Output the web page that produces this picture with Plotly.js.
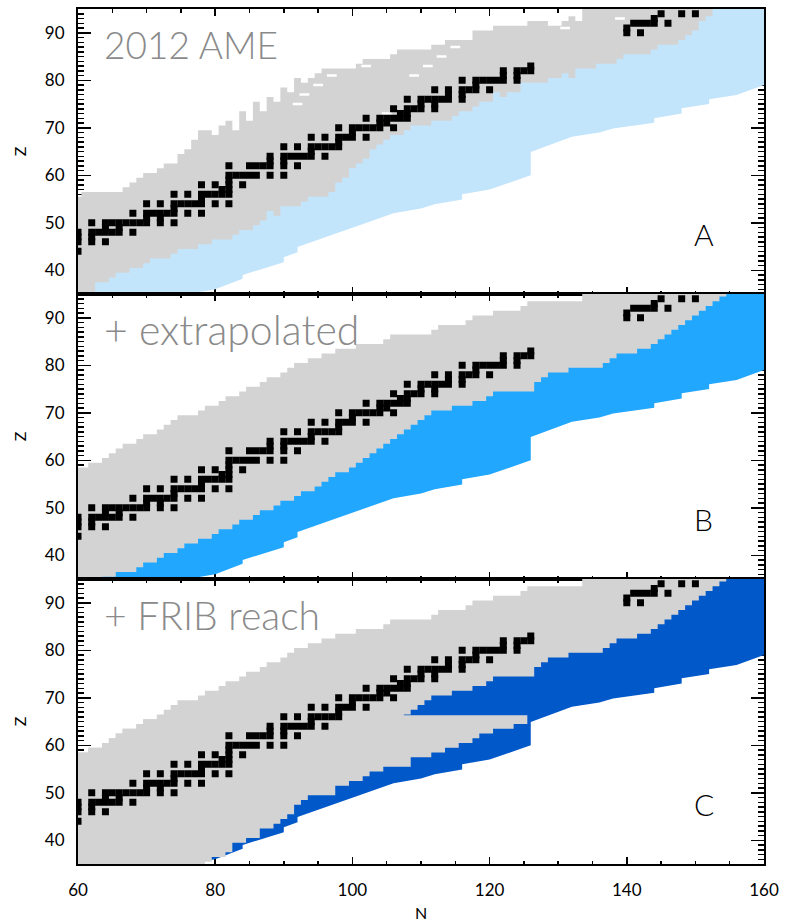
<!DOCTYPE html>
<html><head><meta charset="utf-8">
<script src="https://cdn.plot.ly/plotly-3.0.1.min.js"></script>
<style>html,body{margin:0;padding:0;background:#fff}</style>
</head><body><div id="chart" style="width:787px;height:922px"></div>
<script>
// Isotone columns N = 60..160
const N_cols = [60,61,62,63,64,65,66,67,68,69,70,71,72,73,74,75,76,77,78,79,80,81,82,83,84,85,86,87,88,89,90,91,92,93,94,95,96,97,98,99,100,101,102,103,104,105,106,107,108,109,110,111,112,113,114,115,116,117,118,119,120,121,122,123,124,125,126,127,128,129,130,131,132,133,134,135,136,137,138,139,140,141,142,143,144,145,146,147,148,149,150,151,152,153,154,155,156,157,158,159,160];

// Panel A: 2012 AME known masses (highest / lowest Z per isotone)
const topA = [55,56,56,56,56,56,56,57,58,59, 60,60,61,62,62,64,65,67,69,69, 68,70,71,69,73,71,75,73,76,75, 78,77,80,79,80,81,82,82,82,82, 82,83,84,84,84,84,85,86,86,86, 86,86,87,87,88,88,88,88,90,90, 90,91,91,91,91,91,92,92,92,91, 91,92,93,92,96,96,96,96,96,96, 96,96,96,96,96,96,96,96,96,96, 96,96,96,null,null,null,null,null,null,null,null];
const botA = [35,35,36,38,38,39,40,40,41,41, 42,43,43,43,44,45,45,45,46,46, 47,47,47,48,49,49,50,51,53,52, 54,54,54,55,56,56,56,57,59,60, 62,63,64,66,67,68,69,69,70,71, 71,71,72,72,72,73,74,74,75,76, 76,78,77,78,78,80,80,80,80,81, 81,82,81,83,83,83,84,84,84,85, 86,86,86,86,87,88,88,88,89,90, 91,93,94,null,null,null,null,null,null,null,null];

// Panel B / C: known + extrapolated
const topB = [58,58,59,59,60,61,62,63,63,64, 65,65,66,67,68,69,69,69,70,71, 71,72,73,73,74,75,75,76,77,77, 78,79,80,80,81,81,82,82,83,83, 83,84,84,84,84,85,86,86,86,86, 86,86,87,88,88,88,88,89,90,90, 90,91,91,91,91,92,93,93,93,93, 93,93,93,93,96,96,96,96,96,96, 96,96,96,96,96,96,96,96,96,96, 96,96,96,96,96,null,null,null,null,null,null];
const botB = [34,34,34,35,36,36,37,37,37,38, 39,39,40,41,41,42,43,43,44,44, 45,46,46,47,48,48,49,50,50,51, 52,52,53,54,54,55,56,57,58,58, 59,60,61,62,63,64,65,66,67,68, 69,70,71,71,71,72,72,72,73,73, 74,75,75,75,75,75,75,77,78,79, 79,79,80,80,80,80,80,81,82,83, 83,83,84,84,85,86,87,88,89,90, 91,92,93,94,95,null,null,null,null,null,null];

// Panel C: FRIB reach (lowest Z reached per isotone; reach ends at Z ~ 66)
const fribBot = [34,34,34,34,34,34,34,34,34,34, 34,34,34,34,34,34,34,34,34,36, 37,37,38,40,40,41,41,43,43,44, 45,46,48,49,50,50,50,50,52,52, 53,53,54,55,55,56,56,56,56,58, 58,58,59,59,60,60,61,61,62,63, 63,64,64,64,65,65,null,null,null,null, null,null,null,null,null,null,null,null,null,null, null,null,null,null,null,null,null,null,null,null, null,null,null,null,null,null,null,null,null,null,null];
const fribTopZ = 66.3;

// Neutron drip line (lower edge of coloured band)
const dripN = [60,68,76,80,84,84,90,90,92,92,106,110,112,116,116,120,126,126,132,136,138,144,144,148,148,152,152,156,160];
const dripZ = [30,32.5,35,36,38.2,39,41.7,42.75,43.8,44.9,52,53,53.9,54.9,56,57,60,64.9,68.1,69,69.85,71.05,72,73,74.1,75,76,76.9,79];

// Stable / long-lived nuclei
const stableN = [60, 60,62,64, 60,62, 60,62,63,64,65,66,68, 64,66, 62,64,65,66,67,68,69,70,72,74, 70,72, 68,70,71,72,73,74,76,78, 74, 70,72,74,75,76,77,78,80,82, 78, 74,76,78,79,80,81,82, 81,82, 78,80,82,84, 82, 82,83,84,85,86,88,90, 82,85,86,87,88,90,92, 88,90, 88,90,91,92,93,94,96, 94, 90,92,94,95,96,97,98, 98, 94,96,98,99,100,102, 100, 98,100,101,102,103,104,106, 104,105, 102,104,105,106,107,108, 107,108, 106,108,109,110,112, 110,112, 108,110,111,112,113,114,116, 114,116, 112,114,116,117,118,120, 118, 116,118,119,120,121,122,124, 122,124, 122,124,125,126, 126, 140,142, 140, 141,142,143,144,146, 144, 145,148,150];
const stableZ = [44, 46,46,46, 47,47, 48,48,48,48,48,48,48, 49,49, 50,50,50,50,50,50,50,50,50,50, 51,51, 52,52,52,52,52,52,52,52, 53, 54,54,54,54,54,54,54,54,54, 55, 56,56,56,56,56,56,56, 57,57, 58,58,58,58, 59, 60,60,60,60,60,60,60, 62,62,62,62,62,62,62, 63,63, 64,64,64,64,64,64,64, 65, 66,66,66,66,66,66,66, 67, 68,68,68,68,68,68, 69, 70,70,70,70,70,70,70, 71,71, 72,72,72,72,72,72, 73,73, 74,74,74,74,74, 75,75, 76,76,76,76,76,76,76, 77,77, 78,78,78,78,78,78, 79, 80,80,80,80,80,80,80, 81,81, 82,82,82,82, 83, 90,90, 91, 92,92,92,92,92, 93, 94,94,94];

// Gaps in the 2012 AME coverage
const holesN = [92,93,95,97,102,105,109,111,113,115,131,139];
const holesZ = [75,77,79,81,83,73,81,83,85,87,91,93];

const panelLabels = ['2012 AME', '+ extrapolated', '+ FRIB reach'];
const panelLetters = ['A', 'B', 'C'];

const GRAY = '#d3d3d3';
const BLUES = ['#c3e5fc', '#22a7fe', '#0058c9'];

function columnPolygon(tops, bots, capZ) {
  const xs = [], ys = [];
  const idx = [];
  for (let i = 0; i < N_cols.length; i++) if (bots[i] !== null && tops[i] !== null) idx.push(i);
  idx.forEach(i => {
    let t = tops[i] + 0.5;
    if (capZ !== undefined) t = Math.min(t, capZ);
    xs.push(N_cols[i] - 0.5, N_cols[i] + 0.5); ys.push(t, t);
  });
  idx.slice().reverse().forEach(i => { xs.push(N_cols[i] + 0.5, N_cols[i] - 0.5); ys.push(bots[i] - 0.5, bots[i] - 0.5); });
  return {x: xs, y: ys};
}
function bluePolygon(tops, bots) {
  const xs = dripN.slice(), ys = dripZ.slice();
  const last = N_cols.length - 1;
  xs.push(N_cols[last] + 0.6, N_cols[last] + 0.6); ys.push(dripZ[dripZ.length - 1], 96);
  for (let i = last; i >= 0; i--) {
    if (tops[i] === null || bots[i] === null) continue;
    xs.push(N_cols[i]); ys.push((tops[i] + bots[i]) / 2);
  }
  return {x: xs, y: ys};
}

const traces = [];
const panels = [
  {tops: topA, bots: botA},
  {tops: topB, bots: botB},
  {tops: topB, bots: botB, frib: true}
];
panels.forEach((p, k) => {
  const xa = k === 0 ? 'x' : 'x' + (k + 1);
  const ya = k === 0 ? 'y' : 'y' + (k + 1);
  const bp = bluePolygon(p.tops, p.bots);
  traces.push({type: 'scatter', mode: 'none', x: bp.x, y: bp.y, fill: 'toself', fillcolor: BLUES[k], xaxis: xa, yaxis: ya, hoverinfo: 'skip', showlegend: false});
  const gp = columnPolygon(p.tops, p.bots);
  traces.push({type: 'scatter', mode: 'none', x: gp.x, y: gp.y, fill: 'toself', fillcolor: GRAY, xaxis: xa, yaxis: ya, hoverinfo: 'skip', showlegend: false});
  if (p.frib) {
    const fp = columnPolygon(p.tops, fribBot, fribTopZ);
    traces.push({type: 'scatter', mode: 'none', x: fp.x, y: fp.y, fill: 'toself', fillcolor: GRAY, xaxis: xa, yaxis: ya, hoverinfo: 'skip', showlegend: false});
  }
  if (k === 0) {
    traces.push({type: 'scatter', mode: 'markers', x: holesN, y: holesZ, marker: {symbol: 'line-ew', size: 7, line: {width: 2.5, color: '#ffffff'}}, xaxis: xa, yaxis: ya, hoverinfo: 'skip', showlegend: false});
  }
  traces.push({type: 'scatter', mode: 'markers', x: stableN, y: stableZ, marker: {symbol: 'square', size: 7, color: '#000000', line: {width: 0}}, xaxis: xa, yaxis: ya, hoverinfo: 'skip', showlegend: false});
});

const FONT = 'Lato, "Open Sans", sans-serif';
function xaxisDef(k) {
  return {
    range: [60, 160], anchor: k === 0 ? 'y' : 'y' + (k + 1), matches: k === 0 ? undefined : 'x',
    tickvals: [60, 80, 100, 120, 140, 160], showticklabels: k === 2,
    ticks: 'inside', ticklen: 7, tickwidth: 1.5, tickcolor: '#000',
    minor: {dtick: 5, tick0: 0, ticks: 'inside', ticklen: 3.5, tickwidth: 1.5, tickcolor: '#000'},
    showline: true, linewidth: 2, linecolor: '#000', mirror: 'allticks', layer: 'below traces',
    showgrid: false, zeroline: false, ticklabelstandoff: 10,
    tickfont: {family: FONT, size: 17, color: '#000'},
    title: k === 2 ? {text: 'N', font: {family: FONT, size: 16, color: '#000'}, standoff: 8} : undefined
  };
}
function yaxisDef(k) {
  const d = [[2/3, 1], [1/3, 2/3], [0, 1/3]][k];
  return {
    domain: d, range: [35, 95], anchor: k === 0 ? 'x' : 'x' + (k + 1),
    tickvals: [40, 50, 60, 70, 80, 90],
    ticks: 'inside', ticklen: 13, tickwidth: 1.5, tickcolor: '#000',
    minor: {dtick: 1, tick0: 0, ticks: 'inside', ticklen: 6, tickwidth: 1.5, tickcolor: '#000'},
    showline: true, linewidth: 2, linecolor: '#000', mirror: 'allticks', layer: 'below traces',
    showgrid: false, zeroline: false, ticklabelstandoff: 8,
    tickfont: {family: FONT, size: 17, color: '#000'},
    title: {text: 'Z', font: {family: FONT, size: 16, color: '#000'}, standoff: 14}
  };
}

const layout = {
  width: 787, height: 922,
  margin: {l: 78, r: 23, t: 9, b: 58},
  paper_bgcolor: '#fff', plot_bgcolor: '#fff',
  showlegend: false,
  annotations: []
};
const labelSizes = [37, 41, 39];
for (let k = 0; k < 3; k++) {
  layout[k === 0 ? 'xaxis' : 'xaxis' + (k + 1)] = xaxisDef(k);
  layout[k === 0 ? 'yaxis' : 'yaxis' + (k + 1)] = yaxisDef(k);
  const xr = k === 0 ? 'x domain' : 'x' + (k + 1) + ' domain';
  const yr = k === 0 ? 'y domain' : 'y' + (k + 1) + ' domain';
  layout.annotations.push({xref: xr, yref: yr, x: 0.035, y: 0.875, xanchor: 'left', yanchor: 'middle', showarrow: false,
    text: panelLabels[k], font: {family: FONT, size: labelSizes[k], weight: 300, color: '#8a8a8a'}});
  layout.annotations.push({xref: xr, yref: yr, x: 0.912, y: 0.21, xanchor: 'center', yanchor: 'middle', showarrow: false,
    text: panelLetters[k], font: {family: FONT, size: 30, weight: 300, color: '#000'}});
}

Plotly.newPlot('chart', traces, layout, {displayModeBar: false, staticPlot: true});
</script>
</body></html>
